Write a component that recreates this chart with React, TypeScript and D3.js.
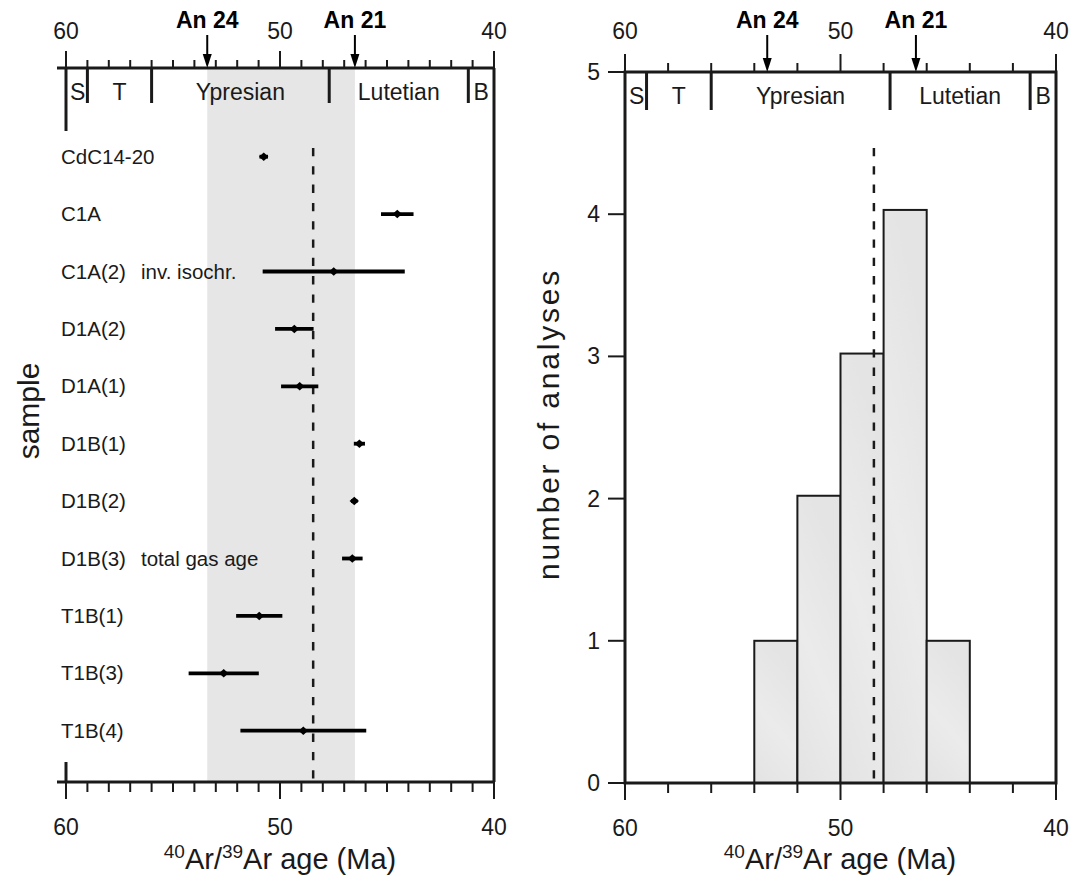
import React from "react"
import * as d3 from "d3"

// sample ages (Ma) with 2-sigma errors
const samples = ["CdC14-20", "C1A", "C1A(2)", "D1A(2)", "D1A(1)", "D1B(1)", "D1B(2)", "D1B(3)", "T1B(1)", "T1B(3)", "T1B(4)"]
const notes = ["", "", "inv. isochr.", "", "", "", "", "total gas age", "", "", ""]
const ages = [50.76, 44.52, 47.49, 49.33, 49.08, 46.29, 46.53, 46.62, 50.97, 52.63, 48.91]
const errors = [0.2, 0.76, 3.32, 0.9, 0.87, 0.26, 0.15, 0.48, 1.08, 1.64, 2.94]
const meanAge = 48.45

// histogram bins (start age, 2 Ma wide) and counts
const binStarts = [54, 52, 50, 48, 46]
const binWidth = 2
const counts = [1, 2.02, 3.02, 4.03, 1]
const countTicks = [0, 1, 2, 3, 4, 5]

// stratigraphy
const stageNames = ["S", "T", "Ypresian", "Lutetian", "B"]
const stageBounds = [60, 59.0, 56.0, 47.7, 41.2, 40]
const anomalies = ["An 24", "An 21"]
const anomalyAges = [53.4, 46.5]
const ageLabels = [60, 50, 40]

const font = "Liberation Sans, Arial, Helvetica, sans-serif"
const ink = "#1a1a1a"

const Title = ({ x, y }: { x: number; y: number }) => (
  <text x={x} y={y} textAnchor="middle" fontSize={29} fill={ink}>
    <tspan fontSize={19} dy={-11}>40</tspan>
    <tspan dy={11}>Ar/</tspan>
    <tspan fontSize={19} dy={-11}>39</tspan>
    <tspan dy={11}>Ar age (Ma)</tspan>
  </text>
)

const Strat = ({ x, top, depth, majorLen, minorLen, minorTicks }: any) => (
  <g>
    {minorTicks.map((t: number) => (
      <line key={"t" + t} x1={x(t)} x2={x(t)} y1={top}
        y2={top - (t % 10 === 0 ? majorLen : minorLen)} stroke={ink} strokeWidth={2} />
    ))}
    {stageBounds.slice(1, -1).map(b => (
      <line key={"b" + b} x1={x(b)} x2={x(b)} y1={top} y2={top + depth} stroke={ink} strokeWidth={3} />
    ))}
    {stageNames.map((n, i) => (
      <text key={n} x={(x(stageBounds[i]) + x(stageBounds[i + 1])) / 2 + (n === "S" ? 1 : 0)}
        y={top + 32} textAnchor="middle" fontSize={23} fill={ink}>{n}</text>
    ))}
    {ageLabels.map(a => (
      <text key={"a" + a} x={x(a)} y={39} textAnchor="middle" fontSize={23} fill={ink}>{a}</text>
    ))}
    {anomalies.map((n, i) => {
      const ax = x(anomalyAges[i])
      return (
        <g key={n}>
          <text x={ax} y={28} textAnchor="middle" fontSize={23} fontWeight="bold" fill="#000">{n}</text>
          <line x1={ax} x2={ax} y1={35} y2={top - 12} stroke="#000" strokeWidth={2} />
          <path d={`M${ax - 4.5},${top - 14} L${ax + 4.5},${top - 14} L${ax},${top} Z`} fill="#000" />
        </g>
      )
    })}
  </g>
)

const BottomAxis = ({ x, y, ticks }: any) => (
  <g>
    {ticks.map((t: number) => (
      <line key={t} x1={x(t)} x2={x(t)} y1={y} y2={y + (t % 10 === 0 ? 17 : 10)} stroke={ink} strokeWidth={2} />
    ))}
    {ageLabels.map(a => (
      <text key={a} x={x(a)} y={y + 53} textAnchor="middle" fontSize={23} fill={ink}>{a}</text>
    ))}
  </g>
)

export default function App() {
  // left panel
  const xL = d3.scaleLinear().domain([60, 40]).range([66, 494])
  const yL = d3.scalePoint<string>().domain(samples).range([156.7, 730.7])
  const topL = 68
  const botL = 782
  const marker = d3.symbol().type(d3.symbolSquare).size(36)

  // right panel
  const xR = d3.scaleLinear().domain([60, 40]).range([625, 1056])
  const yR = d3.scaleLinear().domain([0, 5]).range([783, 72])

  return (
    <svg width={1074} height={879} style={{ position: "absolute", left: 0, top: 0, fontFamily: font }}>
      <defs>
        <linearGradient id="barFill" x1="0" y1="1" x2="0.35" y2="0">
          <stop offset="0" stopColor="#e3e3e3" />
          <stop offset="0.5" stopColor="#ebebeb" />
          <stop offset="1" stopColor="#e4e4e4" />
        </linearGradient>
      </defs>
      <rect width={1074} height={879} fill="#fff" />

      {/* ---------- left: sample ages ---------- */}
      <rect x={xL(anomalyAges[0])} y={topL} width={xL(anomalyAges[1]) - xL(anomalyAges[0])}
        height={botL - topL} fill="#e6e6e6" />
      <line x1={xL(meanAge)} x2={xL(meanAge)} y1={148} y2={botL} stroke={ink} strokeWidth={2.5}
        strokeDasharray="8.3 10" />
      {samples.map((s, i) => (
        <g key={s}>
          <text x={61} y={yL(s)! + 7} fontSize={20.5} fill={ink}>{s}</text>
          {notes[i] && <text x={141} y={yL(s)! + 7} fontSize={20.5} fill={ink}>{notes[i]}</text>}
          <line x1={xL(ages[i] + errors[i])} x2={xL(ages[i] - errors[i])} y1={yL(s)} y2={yL(s)}
            stroke="#000" strokeWidth={3.8} />
          <path d={marker()!} transform={`translate(${xL(ages[i])},${yL(s)}) scale(1.1,1) rotate(45)`} fill="#000" />
        </g>
      ))}
      <line x1={57} x2={494} y1={topL} y2={topL} stroke={ink} strokeWidth={3} />
      <line x1={57} x2={494} y1={botL} y2={botL} stroke={ink} strokeWidth={3} />
      <line x1={66} x2={66} y1={topL} y2={131} stroke={ink} strokeWidth={3} />
      <line x1={66} x2={66} y1={762} y2={botL} stroke={ink} strokeWidth={3} />
      <line x1={494} x2={494} y1={topL} y2={botL} stroke={ink} strokeWidth={3} />
      <Strat x={xL} top={topL} depth={35} majorLen={17} minorLen={8} minorTicks={xL.ticks(20)} />
      <BottomAxis x={xL} y={botL} ticks={xL.ticks(20)} />
      <Title x={280} y={869} />
      <text transform="translate(39,411) rotate(-90)" textAnchor="middle" fontSize={30} fill={ink}>sample</text>

      {/* ---------- right: histogram ---------- */}
      {binStarts.map((b, i) => (
        <rect key={b} x={xR(b)} y={yR(counts[i])} width={xR(b - binWidth) - xR(b)}
          height={yR(0) - yR(counts[i])} fill="url(#barFill)" stroke={ink} strokeWidth={2} />
      ))}
      <line x1={xR(meanAge)} x2={xR(meanAge)} y1={148} y2={yR(0)} stroke={ink} strokeWidth={2.5}
        strokeDasharray="8.3 10" />
      <rect x={xR(60)} y={yR(5)} width={xR(40) - xR(60)} height={yR(0) - yR(5)} fill="none"
        stroke={ink} strokeWidth={3} />
      {countTicks.map(c => (
        <g key={c}>
          <line x1={608} x2={xR(60)} y1={yR(c)} y2={yR(c)} stroke={ink} strokeWidth={2} />
          <text x={600} y={yR(c) + 8} textAnchor="end" fontSize={23} fill={ink}>{c}</text>
        </g>
      ))}
      <Strat x={xR} top={yR(5)} depth={38} majorLen={18} minorLen={9} minorTicks={xR.ticks(10)} />
      <BottomAxis x={xR} y={yR(0)} ticks={xR.ticks(10)} />
      <Title x={840} y={869} />
      <text transform="translate(559,424) rotate(-90)" textAnchor="middle" fontSize={30}
        letterSpacing={2.8} fill={ink}>number of analyses</text>
    </svg>
  )
}
